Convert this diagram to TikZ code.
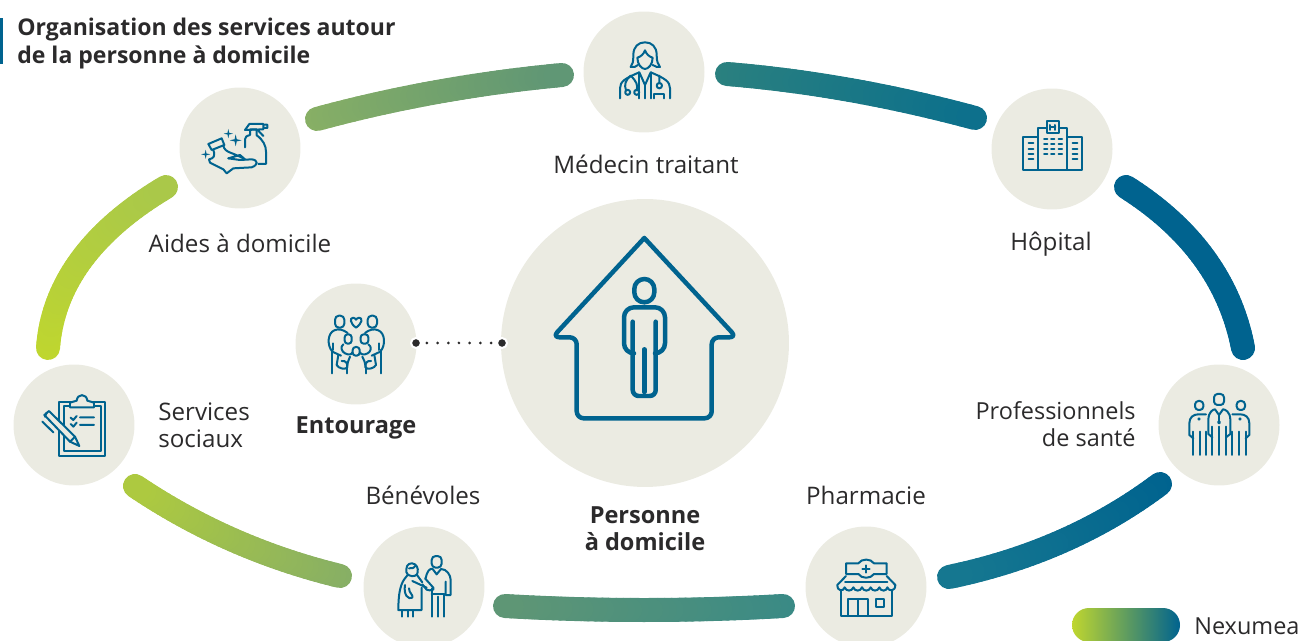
\documentclass[tikz,border=0pt]{standalone}
\usepackage{fontspec}
\setmainfont{Open Sans}
\usetikzlibrary{calc}
\definecolor{discgrey}{HTML}{EBEBE2}
\definecolor{deepblue}{HTML}{00638F}
\definecolor{inkgrey}{HTML}{2B2A2B}
\definecolor{lime}{HTML}{BFD62F}
\definecolor{limeb}{HTML}{AECA3F}
\definecolor{limec}{HTML}{A9C84A}
\definecolor{olive}{HTML}{87AF65}
\definecolor{sage}{HTML}{5F9675}
\definecolor{teal}{HTML}{2A807F}
\definecolor{tealb}{HTML}{3A8A85}
\definecolor{petrol}{HTML}{0C708C}
\definecolor{petrolb}{HTML}{167890}
\tikzset{
	svcdisc/.style={circle,fill=discgrey,minimum size=2.42cm,inner sep=0pt},
	homedisc/.style={circle,fill=discgrey,minimum size=5.76cm,inner sep=0pt},
	lbl/.style={text=inkgrey,font=\fontsize{13.75}{15.4}\selectfont,inner sep=0pt},
	lblsmall/.style={lbl,font=\fontsize{13.35}{15.4}\selectfont},
	lblbold/.style={lbl,font=\fontsize{13.4}{15.4}\selectfont\bfseries},
	ringline/.style={line width=0.48cm,line cap=round},
	icon/.style={draw=deepblue,line width=0.04cm,line join=round,line cap=round},
	homeicon/.style={draw=deepblue,line width=0.09cm,line join=round,line cap=round},
	enddot/.style={circle,fill=inkgrey,draw=white,line width=0.04cm,minimum size=0.2cm,inner sep=0pt},
}
\newcommand{\ringarc}[5]{%
	\foreach \i in {0,...,39}{%
		\pgfmathsetmacro\ta{\i/40}%
		\pgfmathsetmacro\tb{(\i+1)/40}%
		\pgfmathsetmacro\mixp{100*\ta}%
		\colorlet{ringtmp}{#5!\mixp!#4}%
		\draw[ringline,draw=ringtmp] ($($(#1)!\ta!(#2)$)!\ta!($(#2)!\ta!(#3)$)$) -- ($($(#1)!\tb!(#2)$)!\tb!($(#2)!\tb!(#3)$)$);
	}%
}
\begin{document}
\begin{tikzpicture}[x=0.02cm,y=-0.02cm]
	\useasboundingbox (0,0) rectangle (1300,641);
	\path
	(317,119) coordinate(aA) (434.5,87) coordinate(aC) (562,75) coordinate(aB)
	(727,74) coordinate(bA) (849,84) coordinate(bC) (975,118) coordinate(bB)
	(1126,187) coordinate(cA) (1224,249) coordinate(cC) (1243,348) coordinate(cB)
	(1160,484) coordinate(dA) (1069.5,552) coordinate(dC) (949,577) coordinate(dB)
	(783,606) coordinate(eA) (644,614) coordinate(eC) (505,606) coordinate(eB)
	(340,576) coordinate(fA) (228.5,549) coordinate(fC) (135,486) coordinate(fB)
	(48,348) coordinate(gA) (55,253) coordinate(gC) (166,187) coordinate(gB)
	(416,343) coordinate(dotL) (502,343) coordinate(dotR)
	;
	% ring
	\ringarc{aA}{aC}{aB}{olive}{sage}
	\ringarc{bA}{bC}{bB}{teal}{petrol}
	\ringarc{cA}{cC}{cB}{deepblue}{deepblue}
	\ringarc{dA}{dC}{dB}{deepblue}{petrolb}
	\ringarc{eA}{eC}{eB}{tealb}{sage}
	\ringarc{fA}{fC}{fB}{olive}{limeb}
	\ringarc{gA}{gC}{gB}{lime}{limec}
	% discs
	\node[homedisc] (home) at (645,343) {};
	\node[svcdisc] (doctor) at (644,72) {};
	\node[svcdisc] (care) at (240,148) {};
	\node[svcdisc] (hospital) at (1052,149) {};
	\node[svcdisc] (pros) at (1219,425) {};
	\node[svcdisc] (social) at (74,425) {};
	\node[svcdisc] (family) at (356,344) {};
	\node[svcdisc] (helpers) at (424,587) {};
	\node[svcdisc] (pharmacy) at (866,587) {};
	% dotted link
	\draw[inkgrey,line width=0.06cm,line cap=round,dash pattern=on 0pt off 0.215cm] (dotL) -- (dotR);
	\node[enddot] (dotLn) at (dotL) {};
	\node[enddot] (dotRn) at (dotR) {};
	% texts
	\fill[deepblue] (0,18) rectangle (2.5,64);
	\node[lblbold,font=\fontsize{13.1}{15.7}\selectfont\bfseries,anchor=north west,align=left] (title) at (17,18) {Organisation des services autour\\de la personne à domicile};
	\node[lbl] (tdoctor) at (646,164) {Médecin traitant};
	\node[lbl] (tcare) at (240,243) {Aides à domicile};
	\node[lbl] (thospital) at (1051,244) {Hôpital};
	\node[lbl,anchor=west,align=left] (tsocial) at (158,425) {Services\\sociaux};
	\node[lblbold] (tfamily) at (356,428) {Entourage};
	\node[lbl] (thelpers) at (423,495) {Bénévoles};
	\node[lbl] (tpharmacy) at (866,495) {Pharmacie};
	\node[lblbold,align=center] (thome) at (645,529) {Personne\\à domicile};
	\node[lblsmall,anchor=east,align=right] (tpros) at (1136,424) {Professionnels\\de santé};
	% legend
	\shade[rounded corners=0.34cm,left color=lime,middle color=sage!80!teal,right color=deepblue] (1072,608) rectangle (1180,642);
	\node[lblsmall,anchor=west] (tnexu) at (1194,626) {Nexumea};
	% house
	\draw[homeicon,rounded corners=0.14cm] (644.3,238) -- (736.5,337.3) -- (711.7,337.3) -- (711.7,418.3) -- (576.7,418.3) -- (576.7,337.3) -- (552.5,337.3) -- (644.3,238);
	\draw[homeicon,rounded corners=0.2cm] (634.3,279) rectangle (654.3,302.3);
	\draw[homeicon,rounded corners=0.2cm] (632.7,353.3) -- (624,353.3) -- (624,307.3) -- (665,307.3) -- (665,353.3) -- (655.7,353.3);
	\draw[homeicon,rounded corners=0.12cm] (632.7,321.7) -- (632.7,396) -- (644.3,396) -- (655.7,396) -- (655.7,321.7);
	\draw[homeicon] (644.3,349.3) -- (644.3,392);
	% doctor
	\begin{scope}[shift={(610,35)},scale=1/3]
		\draw[icon] (62,96) .. controls (68,88) and (70,80) .. (70,60) .. controls (70,35) and (85,22) .. (105,22) .. controls (125,22) and (140,35) .. (140,60) .. controls (140,80) and (144,88) .. (150,96) .. controls (144,98) and (136,95) .. (128,90);
		\draw[icon] (62,96) .. controls (70,98) and (78,96) .. (84,90);
		\draw[icon] (82,68) .. controls (92,66) and (102,56) .. (105,46) .. controls (108,56) and (118,66) .. (128,68) .. controls (128,88) and (115,102) .. (105,102) .. controls (95,102) and (82,88) .. (82,68) -- cycle;
		\draw[icon] (30,190) -- (30,160) .. controls (30,140) and (45,130) .. (88,112) -- (105,150) -- (122,112) .. controls (165,130) and (180,140) .. (180,160) -- (180,190);
		\draw[icon] (88,112) -- (88,190) (105,150) -- (105,190) (122,112) -- (122,190);
		\draw[icon] (62,122) .. controls (46,135) and (42,150) .. (48,166) (62,122) .. controls (80,140) and (84,150) .. (80,166) (148,122) -- (148,145);
		\draw[icon] (53,172) circle (7.5) (80,172) circle (7.5) (148,152) circle (8);
		\draw[icon] (133,190) -- (133,176) -- (161,176) -- (161,190);
	\end{scope}
	% hospital
	\begin{scope}[shift={(980,80)},scale=1/3]
		\draw[icon] (130,172) rectangle (175,270) (262,172) rectangle (307,270) (175,143) rectangle (262,270);
		\draw[icon,fill=discgrey] (200,123) rectangle (237,160);
		\draw[icon] (211,135) -- (211,150) (226,135) -- (226,150) (211,142) -- (226,142);
		\foreach \yy in {177,192,206,221}{
			\draw[icon] (192,\yy) -- (202,\yy) (213,\yy) -- (223,\yy) (236,\yy) -- (246,\yy);
		}
		\foreach \yy in {190,206,222,238}{
			\draw[icon] (146,\yy) -- (160,\yy) (278,\yy) -- (292,\yy);
		}
	\end{scope}
	% health professionals
	\begin{scope}[shift={(980,80)},scale=1/3]
		\draw[icon,rounded corners=0.07cm] (702,942) rectangle (732,975) (645,963) rectangle (670,990) (770,963) rectangle (795,990);
		\draw[icon] (697,1072) -- (685,1062) -- (685,1020) .. controls (685,995) and (700,988) .. (705,988) -- (717,1005) -- (729,988) .. controls (735,988) and (751,995) .. (751,1020) -- (751,1062) -- (738,1072);
		\draw[icon] (717,1005) -- (717,1024);
		\draw[icon,fill=deepblue] (717,1027) circle (3);
		\draw[icon] (640,1075) -- (628,1065) -- (628,1030) .. controls (628,1012) and (640,1003) .. (655,1003) -- (678,1003);
		\draw[icon] (797,1075) -- (808,1065) -- (808,1030) .. controls (808,1012) and (796,1003) .. (781,1003) -- (757,1003);
		\foreach \xx in {640,659,677,757,778,797}{
			\draw[icon] (\xx,1055) -- (\xx,1125);
		}
		\foreach \xx in {697,717,738}{
			\draw[icon] (\xx,1040) -- (\xx,1125);
		}
		\draw[icon,fill=deepblue] (657,1017) circle (2) (780,1017) circle (2);
	\end{scope}
	% cleaning
	\begin{scope}[shift={(195,110)},scale=1/3]
		\draw[icon] (150,112) -- (150,88) .. controls (150,80) and (155,78) .. (165,75) -- (165,58) -- (185,58) -- (185,76) .. controls (205,90) and (213,108) .. (213,125) -- (213,162) -- (190,162);
		\draw[icon] (150,60) -- (163,42) -- (205,42) -- (205,58) -- (150,60) (205,44) -- (217,44) -- (217,54) -- (205,54) (188,60) -- (205,78);
		\draw[icon] (40,102) -- (80,85) -- (88,105) -- (50,120) -- cycle;
		\draw[icon] (55,120) .. controls (62,140) and (55,145) .. (42,148) -- (45,158) -- (85,178) -- (95,190) -- (115,175) -- (170,172) .. controls (190,165) and (190,150) .. (170,148) -- (135,150) -- (100,145);
		\draw[icon] (85,108) .. controls (92,130) and (110,125) .. (150,148) (100,145) -- (135,135) -- (150,148);
		\foreach \sx/\sy/\sr in {100/71/14,122/91/18,32/133/14}{
			\fill[deepblue] (\sx,\sy-\sr) -- (\sx+0.18*\sr,\sy-0.18*\sr) -- (\sx+\sr,\sy) -- (\sx+0.18*\sr,\sy+0.18*\sr) -- (\sx,\sy+\sr) -- (\sx-0.18*\sr,\sy+0.18*\sr) -- (\sx-\sr,\sy) -- (\sx-0.18*\sr,\sy-0.18*\sr) -- cycle;
		}
	\end{scope}
	% clipboard
	\begin{scope}[shift={(0,270)},scale=1/3]
		\draw[icon] (177,395) rectangle (315,558) (192,408) rectangle (302,543);
		\draw[icon,fill=discgrey] (210,412) -- (210,398) -- (230,392) .. controls (232,370) and (260,370) .. (262,392) -- (282,398) -- (282,412) -- cycle;
		\draw[icon] (212,443) -- (220,450) -- (230,438) (212,462) -- (220,470) -- (230,458) (240,442) -- (282,442) (240,465) -- (282,465);
		\draw[icon,fill=discgrey] (133,435) -- (147,423) -- (225,500) -- (238,528) -- (210,515) -- cycle;
		\draw[icon] (127,455) -- (160,487) (140,428) -- (135,440) (225,500) -- (210,515);
	\end{scope}
	% family
	\begin{scope}[shift={(315,305)},scale=1/3]
		\draw[icon,rounded corners=0.08cm] (60,32) rectangle (88,68) (158,32) rectangle (186,68);
		\draw[icon,rounded corners=0.06cm] (89,88) rectangle (110,116) (137,88) rectangle (160,116) (113,126) rectangle (134,152);
		\draw[icon] (123,68) .. controls (105,55) and (103,38) .. (115,38) .. controls (120,38) and (123,44) .. (123,44) .. controls (123,44) and (127,38) .. (132,38) .. controls (144,38) and (142,55) .. (123,68) -- cycle;
		\draw[icon] (98,84) .. controls (85,74) and (70,70) .. (58,76) .. controls (38,84) and (35,120) .. (52,140) -- (78,152) (150,84) .. controls (162,74) and (178,70) .. (190,76) .. controls (210,84) and (213,120) .. (196,140) -- (170,152);
		\draw[icon] (50,135) -- (50,205) (198,135) -- (198,205) (55,115) -- (55,135) (192,115) -- (192,135);
		\draw[icon] (70,150) -- (65,180) .. controls (70,190) and (90,195) .. (96,188) .. controls (100,175) and (90,165) .. (80,168) (178,150) -- (183,180) .. controls (178,190) and (158,195) .. (152,188) .. controls (148,175) and (158,165) .. (168,168);
		\draw[icon] (96,188) -- (96,205) (152,188) -- (152,205);
		\draw[icon] (85,118) .. controls (75,125) and (80,140) .. (90,145) .. controls (100,150) and (110,150) .. (112,142) (160,118) .. controls (172,125) and (168,140) .. (158,145) .. controls (148,150) and (138,150) .. (135,142);
		\draw[icon] (105,155) .. controls (100,165) and (98,172) .. (96,188) (142,155) .. controls (148,165) and (150,172) .. (152,188);
	\end{scope}
	% volunteers
	\begin{scope}[shift={(385,545)},scale=1/3]
		\draw[icon] (64,72) .. controls (64,58) and (78,50) .. (90,58) .. controls (100,65) and (100,80) .. (96,88) .. controls (88,98) and (72,92) .. (68,88) .. controls (62,84) and (64,78) .. (64,72) -- cycle;
		\draw[icon] (72,70) .. controls (80,72) and (90,68) .. (92,62);
		\draw[icon] (68,90) .. controls (55,105) and (40,120) .. (40,195) -- (110,195) -- (110,128);
		\draw[icon] (52,195) -- (52,215) (68,195) -- (68,215) (85,195) -- (85,215);
		\draw[icon] (60,120) .. controls (55,150) and (70,165) .. (82,158) .. controls (85,148) and (72,145) .. (72,130);
		\draw[icon] (82,108) -- (125,128) (96,90) -- (112,112);
		\draw[icon,rounded corners=0.08cm] (140,33) rectangle (170,68);
		\draw[icon] (122,100) .. controls (125,80) and (135,68) .. (143,72) -- (155,88) -- (168,72) .. controls (185,72) and (197,90) .. (197,105) -- (197,150) -- (182,150) -- (182,110);
		\draw[icon] (120,100) -- (145,128) .. controls (150,136) and (135,138) .. (125,134) -- (112,118);
		\draw[icon] (140,130) -- (140,215) (178,148) -- (178,215) (140,148) -- (178,148) (158,155) -- (158,215);
	\end{scope}
	% pharmacy
	\begin{scope}[shift={(780,510)},scale=1/3]
		\draw[icon] (198,160) -- (235,160) .. controls (245,145) and (272,145) .. (282,160) -- (320,160) -- (320,192) -- (282,192) .. controls (272,207) and (245,207) .. (235,192) -- (198,192) -- cycle;
		\draw[icon] (258,166) -- (258,188) (247,177) -- (269,177);
		\draw[icon] (198,198) -- (172,225) .. controls (172,245) and (190,245) .. (194,232) .. controls (198,245) and (216,245) .. (220,232) .. controls (224,245) and (242,245) .. (246,232) .. controls (250,245) and (268,245) .. (272,232) .. controls (276,245) and (294,245) .. (298,232) .. controls (302,245) and (320,245) .. (322,232) .. controls (326,245) and (346,245) .. (346,225) -- (320,198);
		\draw[icon] (195,217) -- (322,217);
		\draw[icon] (184,240) -- (184,318) -- (337,318) -- (337,240);
		\draw[icon] (205,318) -- (205,267) -- (265,267) -- (265,318) (235,267) -- (235,318);
		\draw[icon] (287,267) rectangle (312,290);
	\end{scope}
\end{tikzpicture}
\end{document}
